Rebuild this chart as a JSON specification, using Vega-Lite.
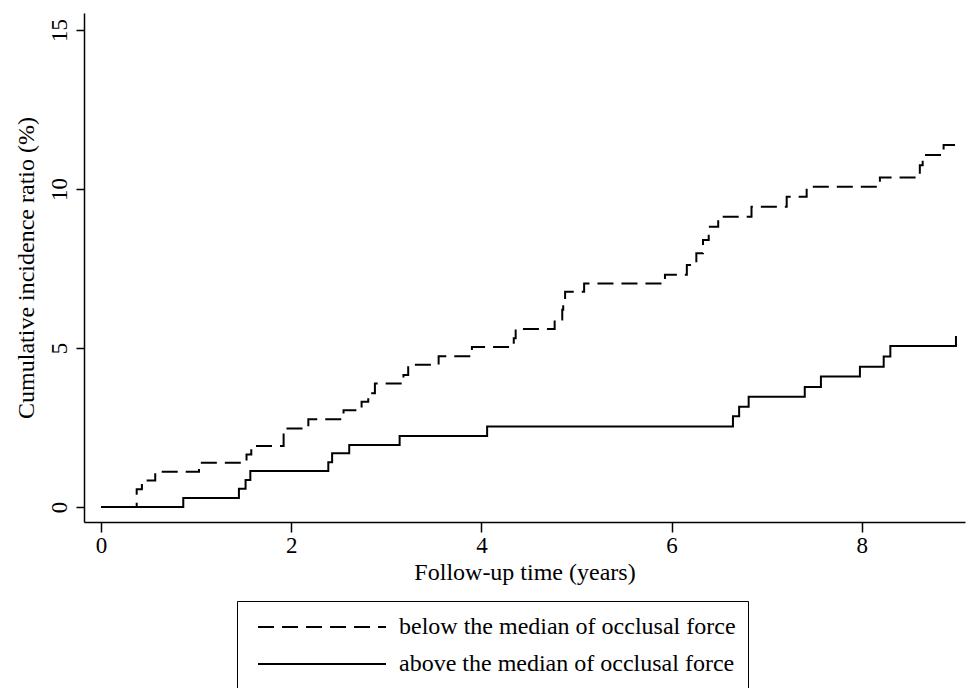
{
  "$schema": "https://vega.github.io/schema/vega-lite/v6.json",
  "autosize": {"type": "none"},
  "padding": {"left": 84, "top": 13, "right": 6, "bottom": 166},
  "width": 881,
  "height": 509,
  "background": "white",
  "config": {
    "view": {"stroke": null},
    "font": "Liberation Serif",
    "axis": {
      "grid": false,
      "domainColor": "black",
      "domainWidth": 1.5,
      "tickColor": "black",
      "tickWidth": 1.5,
      "labelColor": "black",
      "titleColor": "black",
      "labelFont": "Liberation Serif",
      "titleFont": "Liberation Serif",
      "labelFontSize": 23,
      "titleFontSize": 24,
      "titleFontWeight": "normal"
    },
    "legend": {"labelFont": "Liberation Serif", "labelColor": "black"}
  },
  "data": {
    "values": [
      {"t": 0, "v": 0, "g": "below the median of occlusal force"},
      {"t": 0.375, "v": 0.56, "g": "below the median of occlusal force"},
      {"t": 0.43, "v": 0.83, "g": "below the median of occlusal force"},
      {"t": 0.57, "v": 1.11, "g": "below the median of occlusal force"},
      {"t": 1.03, "v": 1.39, "g": "below the median of occlusal force"},
      {"t": 1.53, "v": 1.65, "g": "below the median of occlusal force"},
      {"t": 1.58, "v": 1.92, "g": "below the median of occlusal force"},
      {"t": 1.92, "v": 2.47, "g": "below the median of occlusal force"},
      {"t": 2.18, "v": 2.76, "g": "below the median of occlusal force"},
      {"t": 2.55, "v": 3.04, "g": "below the median of occlusal force"},
      {"t": 2.74, "v": 3.31, "g": "below the median of occlusal force"},
      {"t": 2.81, "v": 3.58, "g": "below the median of occlusal force"},
      {"t": 2.88, "v": 3.88, "g": "below the median of occlusal force"},
      {"t": 3.18, "v": 4.15, "g": "below the median of occlusal force"},
      {"t": 3.23, "v": 4.47, "g": "below the median of occlusal force"},
      {"t": 3.55, "v": 4.74, "g": "below the median of occlusal force"},
      {"t": 3.9, "v": 5.03, "g": "below the median of occlusal force"},
      {"t": 4.34, "v": 5.31, "g": "below the median of occlusal force"},
      {"t": 4.36, "v": 5.6, "g": "below the median of occlusal force"},
      {"t": 4.77, "v": 5.9, "g": "below the median of occlusal force"},
      {"t": 4.85, "v": 6.2, "g": "below the median of occlusal force"},
      {"t": 4.86, "v": 6.5, "g": "below the median of occlusal force"},
      {"t": 4.88, "v": 6.77, "g": "below the median of occlusal force"},
      {"t": 5.08, "v": 7.03, "g": "below the median of occlusal force"},
      {"t": 5.93, "v": 7.3, "g": "below the median of occlusal force"},
      {"t": 6.16, "v": 7.61, "g": "below the median of occlusal force"},
      {"t": 6.26, "v": 7.98, "g": "below the median of occlusal force"},
      {"t": 6.33, "v": 8.4, "g": "below the median of occlusal force"},
      {"t": 6.39, "v": 8.81, "g": "below the median of occlusal force"},
      {"t": 6.49, "v": 9.13, "g": "below the median of occlusal force"},
      {"t": 6.84, "v": 9.44, "g": "below the median of occlusal force"},
      {"t": 7.21, "v": 9.76, "g": "below the median of occlusal force"},
      {"t": 7.42, "v": 10.07, "g": "below the median of occlusal force"},
      {"t": 8.19, "v": 10.36, "g": "below the median of occlusal force"},
      {"t": 8.61, "v": 10.75, "g": "below the median of occlusal force"},
      {"t": 8.64, "v": 11.07, "g": "below the median of occlusal force"},
      {"t": 8.86, "v": 11.38, "g": "below the median of occlusal force"},
      {"t": 8.98, "v": 11.38, "g": "below the median of occlusal force"},
      {"t": 0, "v": 0, "g": "above the median of occlusal force"},
      {"t": 0.865, "v": 0.28, "g": "above the median of occlusal force"},
      {"t": 1.45, "v": 0.57, "g": "above the median of occlusal force"},
      {"t": 1.52, "v": 0.85, "g": "above the median of occlusal force"},
      {"t": 1.57, "v": 1.13, "g": "above the median of occlusal force"},
      {"t": 2.39, "v": 1.41, "g": "above the median of occlusal force"},
      {"t": 2.43, "v": 1.69, "g": "above the median of occlusal force"},
      {"t": 2.61, "v": 1.95, "g": "above the median of occlusal force"},
      {"t": 3.14, "v": 2.23, "g": "above the median of occlusal force"},
      {"t": 4.06, "v": 2.53, "g": "above the median of occlusal force"},
      {"t": 6.645, "v": 2.85, "g": "above the median of occlusal force"},
      {"t": 6.71, "v": 3.15, "g": "above the median of occlusal force"},
      {"t": 6.81, "v": 3.47, "g": "above the median of occlusal force"},
      {"t": 7.4, "v": 3.77, "g": "above the median of occlusal force"},
      {"t": 7.57, "v": 4.1, "g": "above the median of occlusal force"},
      {"t": 7.98, "v": 4.41, "g": "above the median of occlusal force"},
      {"t": 8.23, "v": 4.73, "g": "above the median of occlusal force"},
      {"t": 8.3, "v": 5.06, "g": "above the median of occlusal force"},
      {"t": 8.99, "v": 5.38, "g": "above the median of occlusal force"}
    ]
  },
  "mark": {"type": "line", "interpolate": "step-after", "color": "black", "strokeWidth": 2},
  "encoding": {
    "x": {
      "field": "t",
      "type": "quantitative",
      "scale": {"domain": [-0.179, 9.085], "nice": false, "zero": false},
      "axis": {"values": [0, 2, 4, 6, 8], "title": "Follow-up time (years)", "tickSize": 10, "labelPadding": 2, "titlePadding": 3}
    },
    "y": {
      "field": "v",
      "type": "quantitative",
      "scale": {"domain": [-0.472, 15.535], "nice": false, "zero": false},
      "axis": {"values": [0, 5, 10, 15], "title": "Cumulative incidence ratio (%)", "tickSize": 8, "labelAngle": -90, "labelAlign": "center", "labelBaseline": "bottom", "labelPadding": 5, "titlePadding": 10}
    },
    "strokeDash": {
      "field": "g",
      "type": "nominal",
      "scale": {
        "domain": ["below the median of occlusal force", "above the median of occlusal force"],
        "range": [[16, 8], [1, 0]]
      },
      "legend": {
        "title": null,
        "orient": "none",
        "legendX": 153,
        "legendY": 588,
        "symbolType": "stroke",
        "symbolSize": 16384,
        "symbolStrokeWidth": 2,
        "symbolStrokeColor": "black",
        "symbolOffset": 8,
        "labelFontSize": 24,
        "labelOffset": 12,
        "labelLimit": 600,
        "clipHeight": 28,
        "rowPadding": 9,
        "padding": 12,
        "strokeColor": "black",
        "fillColor": "white"
      }
    }
  }
}
